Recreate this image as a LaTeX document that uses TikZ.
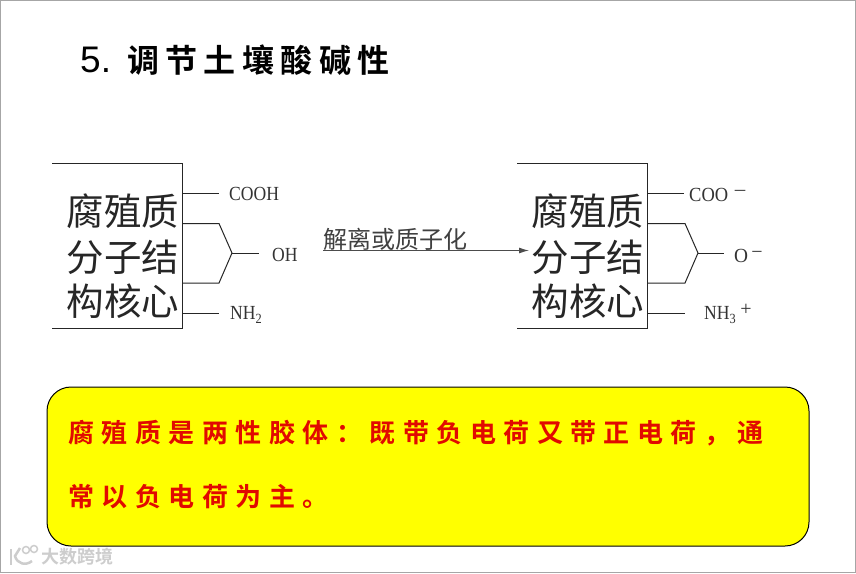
\documentclass[tikz,border=0pt]{standalone}
\usepackage{fontspec}
\usetikzlibrary{arrows.meta}
\setmainfont{Liberation Serif}
\newfontfamily\cjk{Noto Sans CJK SC}
\newfontfamily\cjkwm{Noto Sans CJK SC Bold}
\newfontfamily\cjkb{Noto Sans CJK SC Bold}[LetterSpace=20]
\newfontfamily\cjkr{Noto Sans CJK SC Bold}[LetterSpace=28.8]
\newfontfamily\cjkc{Noto Sans CJK SC}
\newfontfamily\sans{Liberation Sans}
\definecolor{wm}{RGB}{205,205,205}
\definecolor{boxyellow}{RGB}{255,255,0}
\definecolor{txtred}{RGB}{225,10,0}
\tikzset{
  x=1pt,y=-1pt,
  ln/.style={draw=black!85,line width=1pt},
  core/.style={inner sep=0pt,anchor=center,align=center,font=\fontsize{37.5}{44}\cjkc,text=black!85},
  grp/.style={inner sep=0pt,anchor=west,font=\fontsize{20}{20}\selectfont,text=black!80,xscale=.88},
  plainred/.style={inner sep=0pt,anchor=west,text=txtred},
  supr/.style={inner sep=0pt,anchor=center,font=\fontsize{20}{20}\selectfont,text=black!80},
}
\begin{document}
\begin{tikzpicture}
\useasboundingbox (0,0) rectangle (856,573);
\draw[draw=black!35,line width=1pt,fill=white] (0.5,0.5) rectangle (855.5,572.5);
\node[inner sep=0pt,anchor=west] (ttl5) at (80,60) {\fontsize{37}{37}\sans 5.};
\node[inner sep=0pt,anchor=west] (ttl) at (127,60) {\fontsize{32}{32}\cjkb 调节土壤酸碱性};
% left block
\coordinate (ltl) at (52,163); \coordinate (ltr) at (182,163);
\coordinate (lbl) at (52,328); \coordinate (lbr) at (182,328);
\draw[ln] (ltl)--(ltr)--(lbr)--(lbl);
\node[core] (lc1) at (123,211) {腐殖质};
\node[core] (lc2) at (123,257) {分子结};
\node[core] (lc3) at (123,301) {构核心};
\coordinate (la) at (182,193); \coordinate (lae) at (219,193);
\coordinate (lb) at (182,223.5); \coordinate (lc) at (182,283);
\coordinate (ld) at (219,223.5); \coordinate (le) at (219,283);
\coordinate (lm) at (232,253); \coordinate (lme) at (259,253);
\coordinate (lf) at (182,313); \coordinate (lfe) at (219,313);
\draw[ln] (la)--(lae);
\draw[ln] (lb)--(ld)--(lm)--(le)--(lc);
\draw[ln] (lm)--(lme);
\draw[ln] (lf)--(lfe);
\node[grp] (lt1) at (229,194) {COOH};
\node[grp] (lt2) at (272,255) {OH};
\node[grp] (lt3) at (230,315) {NH\textsubscript{2}};
% arrow
\coordinate (arrs) at (323,250.5);
\coordinate (arre) at (529,250.5);
\draw[draw=black!70,line width=1.1pt,-{Latex[length=10pt,width=6pt]}] (arrs)--(arre);
\node[inner sep=0pt,anchor=west,text=black!75] (arrl) at (323,239) {\fontsize{24}{24}\cjk 解离或质子化};
% right block
\coordinate (rtl) at (517,163); \coordinate (rtr) at (647,163);
\coordinate (rbl) at (517,328); \coordinate (rbr) at (647,328);
\draw[ln] (rtl)--(rtr)--(rbr)--(rbl);
\node[core] (rc1) at (588,211) {腐殖质};
\node[core] (rc2) at (588,257) {分子结};
\node[core] (rc3) at (588,301) {构核心};
\coordinate (ra) at (647,193); \coordinate (rae) at (684,193);
\coordinate (rb) at (647,223.5); \coordinate (rc) at (647,283);
\coordinate (rd) at (685,223.5); \coordinate (re) at (685,283);
\coordinate (rm) at (698,253); \coordinate (rme) at (724,253);
\coordinate (rf) at (647,313); \coordinate (rfe) at (685,313);
\draw[ln] (ra)--(rae);
\draw[ln] (rb)--(rd)--(rm)--(re)--(rc);
\draw[ln] (rm)--(rme);
\draw[ln] (rf)--(rfe);
\node[grp,xscale=1.05] (rt1) at (689,195) {COO};
\node[supr,xscale=1.15] (rs1) at (740,194) {−};
\node[grp,xscale=1.1] (rt2) at (734,256) {O};
\node[supr] (rs2) at (757,255) {−};
\node[grp] (rt3) at (704,315) {NH\textsubscript{3}};
\node[supr] (rs3) at (746,310) {+};
% callout
\draw[draw=black,line width=1pt,fill=boxyellow,rounded corners=24pt] (47,387) rectangle (809,546);
\node[plainred] (n1) at (68,433) {\fontsize{26}{26}\cjkr 腐殖质是两性胶体：既带负电荷又带正电荷，通};
\node[plainred] (n2) at (68,497) {\fontsize{26}{26}\cjkr 常以负电荷为主。};
% watermark
\node[inner sep=0pt,anchor=west,text=wm] (wm) at (41,557) {\fontsize{18}{18}\cjkwm 大数跨境};
\draw[wm,line width=2.5pt] (11,549)--(11,565);
\draw[wm,line width=2.5pt] (20,548)--(15,556) .. controls (17,564) and (26,566) .. (32,561);
\draw[wm,line width=1.5pt] (26,550) circle (3.5) (34,549) circle (3.5);
\end{tikzpicture}
\end{document}
